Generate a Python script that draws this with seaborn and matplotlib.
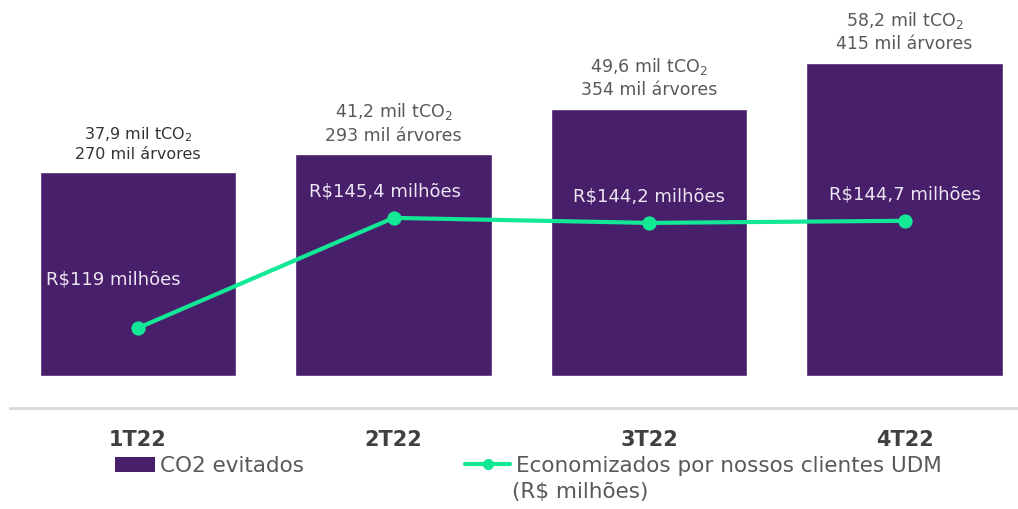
import matplotlib
matplotlib.use("Agg")
import matplotlib.pyplot as plt
import seaborn as sns
import pandas as pd
from matplotlib.patches import Patch
from matplotlib.lines import Line2D

# dados
trimestres = ["1T22", "2T22", "3T22", "4T22"]
co2_mil_t = [37.9, 41.2, 49.6, 58.2]
arvores_mil = [270, 293, 354, 415]
economia_mi = [119, 145.4, 144.2, 144.7]
rotulos_economia = ["R$119 milhões", "R$145,4 milhões", "R$144,2 milhões", "R$144,7 milhões"]

roxo = "#481F6B"
verde = "#12E896"
cinza = "#404040"

sns.set_theme(style="white")
plt.rcParams["font.family"] = ["DejaVu Sans"]

df = pd.DataFrame({"trimestre": trimestres, "co2": co2_mil_t, "economia": economia_mi})

fig = plt.figure(figsize=(10.18, 5.09), dpi=100)
ax = fig.add_axes([10 / 1018, (509 - 408) / 509, 1008 / 1018, 408 / 509])

sns.barplot(data=df, x="trimestre", y="co2", color=roxo, saturation=1, width=0.77, ax=ax)
ax.set_xlim(-0.501, 3.444)
ax.set_ylim(-5.95, 69.9)

# rótulos acima das barras
for i, (c, a) in enumerate(zip(co2_mil_t, arvores_mil)):
    txt = f"{c:.1f}".replace(".", ",") + " mil tCO$_2$\n" + f"{a} mil árvores"
    ax.annotate(txt, (i, c), xytext=(0, 7), textcoords="offset points",
                ha="center", va="bottom", fontsize=11.5 if i == 0 else 12.5,
                color="#333333" if i == 0 else "#595959", linespacing=1.3)

ax2 = ax.twinx()
sns.pointplot(data=df, x="trimestre", y="economia", color=verde, ax=ax2,
              linewidth=3, markersize=8, markers="o", errorbar=None)
ax2.set_xlim(-0.501, 3.444)
ax2.set_ylim(99.8, 197.66)

offsets = [(-18, 35), (-6, 19), (0, 19), (0, 19)]
for i, (v, lab) in enumerate(zip(economia_mi, rotulos_economia)):
    ax2.annotate(lab, (i, v), xytext=offsets[i], textcoords="offset points",
                 ha="center", va="center", fontsize=13, color="#EDE6F2")

for a in (ax, ax2):
    a.set_ylabel("")
    a.set_xlabel("")
    a.set_yticks([])
    for s in ("top", "left", "right", "bottom"):
        a.spines[s].set_visible(False)
ax.spines["bottom"].set_visible(True)
ax.spines["bottom"].set_color("#D9D9D9")
ax.spines["bottom"].set_linewidth(2)

ax.set_xticks(range(4))
ax.set_xticklabels(trimestres, fontsize=15, fontweight="bold", color=cinza)
ax.tick_params(axis="x", length=0, pad=16)
ax2.tick_params(axis="x", length=0, labelbottom=False)

# legenda
leg_kw = dict(loc="center left", frameon=False, fontsize=15.5, labelcolor="#595959",
              handletextpad=0.25, borderpad=0, borderaxespad=0)
fig.legend(handles=[Patch(facecolor=roxo, edgecolor="none")], labels=["CO2 evitados"],
           bbox_to_anchor=(115 / 1018, 1 - 466 / 509), handlelength=1.85, handleheight=0.65,
           **leg_kw)
fig.legend(handles=[Line2D([], [], color=verde, lw=3, marker="o", markersize=7)],
           labels=["Economizados por nossos clientes UDM"],
           bbox_to_anchor=(465 / 1018, 1 - 466 / 509), handlelength=2.1, **leg_kw)
fig.text(512 / 1018, 1 - 492 / 509, "(R$ milhões)", fontsize=15.5, color="#595959",
         ha="left", va="center")

fig.savefig("out.png", dpi=100)
